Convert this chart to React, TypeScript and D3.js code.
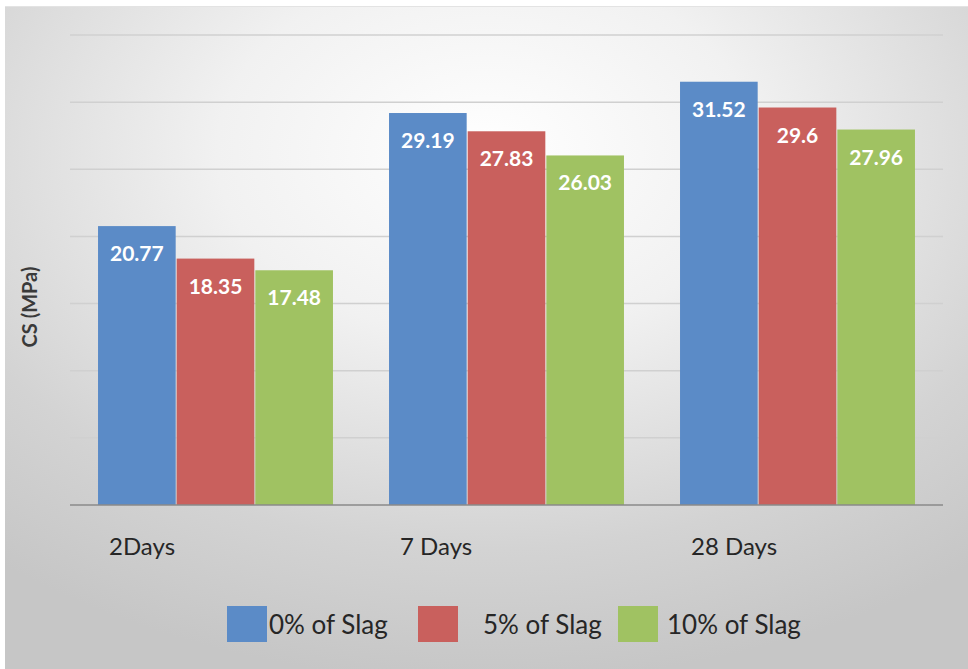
import React from "react";
import * as d3 from "d3";

const categories = ["2Days", "7 Days", "28 Days"];
const seriesNames = ["0% of Slag", "5% of Slag", "10% of Slag"];
const values0 = [20.77, 29.19, 31.52];
const values5 = [18.35, 27.83, 29.6];
const values10 = [17.48, 26.03, 27.96];
const valueLabels0 = ["20.77", "29.19", "31.52"];
const valueLabels5 = ["18.35", "27.83", "29.6"];
const valueLabels10 = ["17.48", "26.03", "27.96"];
const yTicks = [0, 5, 10, 15, 20, 25, 30, 35];
const colors = ["#5b8bc7", "#c9605d", "#a0c262"];

const W = 968;
const H = 669;
const FONT = "Lato, 'Open Sans', sans-serif";

export default function App() {
  const plotLeft = 70;
  const plotRight = 943;
  const plotTop = 35;
  const plotBottom = 505;

  const x0 = d3.scaleBand<string>().domain(categories).range([plotLeft, plotRight]).paddingInner(0).paddingOuter(0);
  const x1 = d3
    .scaleBand<string>()
    .domain(seriesNames)
    .range([0, x0.bandwidth()])
    .paddingInner(0)
    .paddingOuter(0.35);
  const y = d3.scaleLinear().domain([0, 35]).range([plotBottom, plotTop]);

  const allValues = [values0, values5, values10];
  const allLabels = [valueLabels0, valueLabels5, valueLabels10];

  const legendX = [227, 418, 618];
  const legendTextX = [269, 483, 667];

  return (
    <svg
      width={W}
      height={H}
      style={{ position: "absolute", left: 0, top: 0, display: "block" }}
      fontFamily={FONT}
    >
      <defs>
        <radialGradient id="bg" cx="0.5" cy="0.22" r="0.8" fx="0.5" fy="0.22">
          <stop offset="0" stopColor="#ffffff" />
          <stop offset="0.35" stopColor="#f1f1f1" />
          <stop offset="0.75" stopColor="#d3d3d3" />
          <stop offset="1" stopColor="#c6c6c6" />
        </radialGradient>
      </defs>
      <rect x={0} y={0} width={W} height={H} fill="#ffffff" />
      <rect x={5} y={6} width={W - 5} height={H - 6} fill="url(#bg)" />
      <line x1={5} x2={W} y1={6.5} y2={6.5} stroke="#e3e3e3" strokeWidth={1} />

      {yTicks.map((t) =>
        t === 0 ? null : (
          <line key={t} x1={plotLeft} x2={plotRight} y1={y(t)} y2={y(t)} stroke="#d0d0d0" strokeWidth={1.5} />
        )
      )}

      {categories.map((c, ci) =>
        seriesNames.map((s, si) => {
          const v = allValues[si][ci];
          const bx = (x0(c) as number) + (x1(s) as number);
          const bw = x1.bandwidth();
          return (
            <g key={c + s}>
              <rect x={bx + 0.5} y={y(v)} width={bw - 1} height={plotBottom - y(v)} fill={colors[si]} />
              <text
                x={bx + bw / 2}
                y={y(v) + 35}
                textAnchor="middle"
                fill="#ffffff"
                fontWeight="bold"
                fontSize={21}
              >
                {allLabels[si][ci]}
              </text>
            </g>
          );
        })
      )}

      <line x1={plotLeft} x2={plotRight} y1={plotBottom} y2={plotBottom} stroke="#8a8a8a" strokeWidth={1.5} />

      {categories.map((c) => (
        <text key={c} x={(x0(c) as number) + 39} y={555} fill="#262626" fontSize={24}>
          {c}
        </text>
      ))}

      <text
        transform={`translate(37, 307) rotate(-90)`}
        textAnchor="middle"
        fill="#3a3a3a"
        fontWeight="bold"
        fontSize={20}
      >
        CS (MPa)
      </text>

      {seriesNames.map((s, i) => (
        <g key={s}>
          <rect x={legendX[i]} y={606} width={40} height={36} fill={colors[i]} />
          <text x={legendTextX[i]} y={634} fill="#262626" fontSize={26}>
            {s}
          </text>
        </g>
      ))}
    </svg>
  );
}
